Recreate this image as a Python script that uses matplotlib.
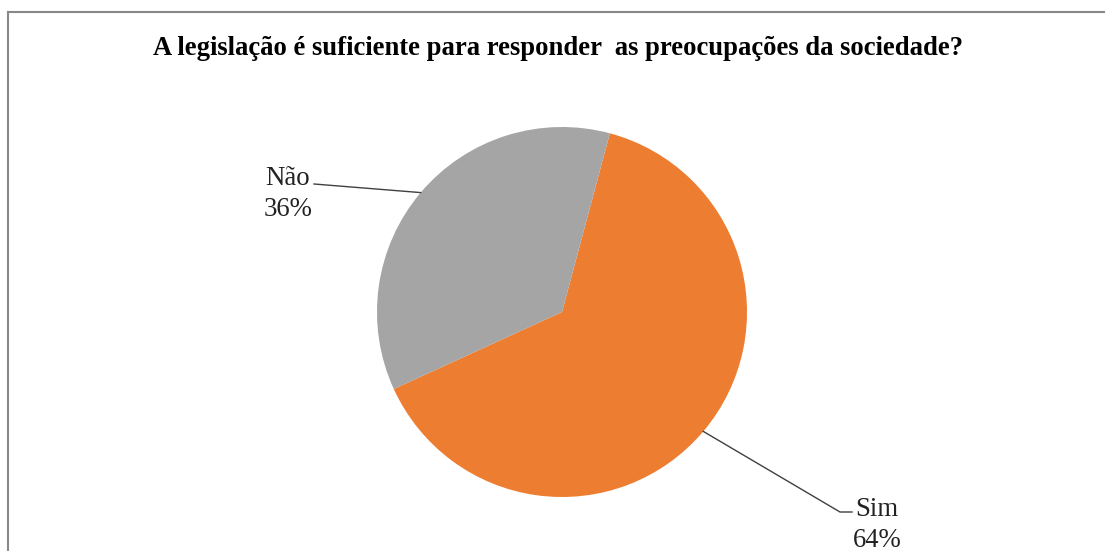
import numpy as np
import matplotlib.pyplot as plt
from matplotlib.lines import Line2D

plt.rcParams['font.family'] = ['Liberation Serif', 'DejaVu Serif']

title = 'A legislação é suficiente para responder  as preocupações da sociedade?'
labels = ['Sim', 'Não']
values = [64, 36]
colors = ['#ED7D31', '#A5A5A5']

W, H = 1105, 551
fig = plt.figure(figsize=(W / 100, H / 100), dpi=100)
ax = fig.add_axes([0, 0, 1, 1])

# frame (only left and top visible in the crop)
fig.add_artist(Line2D([7.5 / W, 7.5 / W], [0, 1 - 11.5 / H], transform=fig.transFigure,
                      color='#888888', lw=1.5))
fig.add_artist(Line2D([7.5 / W, 1], [1 - 11.5 / H, 1 - 11.5 / H], transform=fig.transFigure,
                      color='#888888', lw=1.5))

cx, cy, r = 562, H - 312, 185
wedges, _ = ax.pie(values, colors=colors, startangle=75, counterclock=False,
                   center=(cx, cy), radius=r, frame=True)
ax.set_xlim(0, W)
ax.set_ylim(0, H)
ax.set_aspect('equal')
ax.axis('off')

fig.text(558.5 / W, 1 - 48.5 / H, title, ha='center', va='center',
         fontsize=19.15, fontweight='bold')

# data labels with leader lines
label_pos = {'Não': (288, H - 194, 314, H - 184), 'Sim': (877, H - 525, 852, H - 512)}
for w, lab, v in zip(wedges, labels, values):
    mid = np.deg2rad((w.theta1 + w.theta2) / 2)
    px, py = cx + r * np.cos(mid), cy + r * np.sin(mid)
    tx, ty, lx, ly = label_pos[lab]
    if lab == 'Sim':
        ax.plot([px, lx - 12, lx], [py, ly, ly], color='#404040', lw=1)
    else:
        ax.plot([px, lx], [py, ly], color='#404040', lw=1)
    ax.text(tx, ty, f'{lab}\n{v}%', ha='center', va='center', fontsize=19.3,
            linespacing=1.35, color='#222222')

fig.savefig('out.png', dpi=100, facecolor='white')
